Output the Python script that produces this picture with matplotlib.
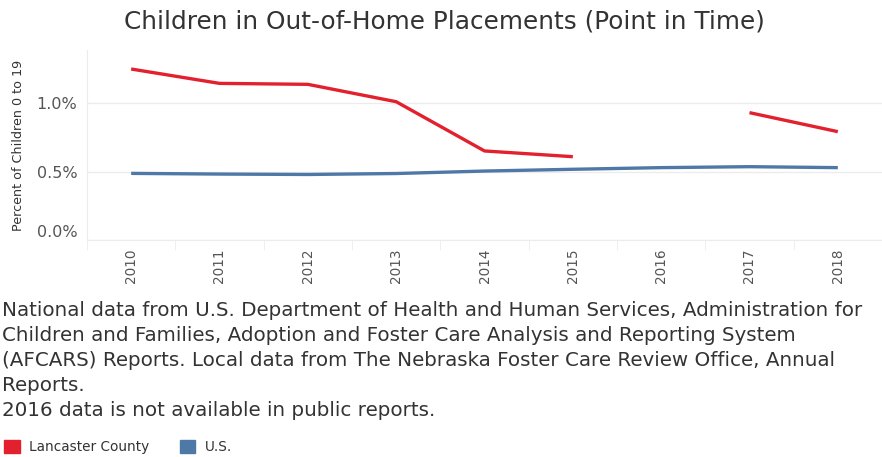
import matplotlib.pyplot as plt
import numpy as np
from matplotlib.patches import Patch
from matplotlib.ticker import FuncFormatter

# data (percent of children 0 to 19)
years = [2010, 2011, 2012, 2013, 2014, 2015, 2016, 2017, 2018]
lancaster = [1.25, 1.145, 1.138, 1.011, 0.651, 0.609, np.nan, 0.931, 0.792]
us = [0.487, 0.482, 0.479, 0.486, 0.504, 0.517, 0.529, 0.536, 0.529]
y_ticks = [0.0, 0.5, 1.0]

notes = ['National data from U.S. Department of Health and Human Services, Administration for',
         'Children and Families, Adoption and Foster Care Analysis and Reporting System',
         '(AFCARS) Reports. Local data from The Nebraska Foster Care Review Office, Annual',
         'Reports.',
         '2016 data is not available in public reports.']

c_red = '#e3202e'
c_blue = '#4e79a7'
c_text = '#333333'
c_grid = '#ececec'

W, H = 882, 457
fig = plt.figure(figsize=(W / 100, H / 100), dpi=100)
ax = fig.add_axes([87 / W, 1 - 240 / H, 1 - 87 / W, 190 / H])

ax.plot(years, lancaster, color=c_red, lw=2.4, solid_capstyle='butt')
ax.plot(years, us, color=c_blue, lw=2.4, solid_capstyle='butt')

ax.set_xlim(2009.52, 2018.39)
ax.set_ylim(0, 1.389)

ax.set_yticks(y_ticks)
ax.yaxis.set_major_formatter(FuncFormatter(lambda v, p: '{:.1f}%'.format(v)))
ax.tick_params(axis='y', length=0, pad=7, labelsize=11.5, labelcolor='#555555')
for lbl in ax.get_yticklabels():
    if lbl.get_text() == '0.0%':
        lbl.set_verticalalignment('bottom')
ax.grid(axis='y', color=c_grid, lw=1)

ax.set_xticks(years)
ax.set_xticklabels([str(y) for y in years], rotation=90, fontsize=9.8,
                   color='#555555')
ax.tick_params(axis='x', length=0, pad=6)
ax.set_xticks(np.arange(2009.5, 2018.6, 1), minor=True)
ax.tick_params(axis='x', which='minor', length=7, color=c_grid)

for s in ['top', 'right']:
    ax.spines[s].set_visible(False)
for s in ['left', 'bottom']:
    ax.spines[s].set_color(c_grid)

ax.set_ylabel('Percent of Children 0 to 19', fontsize=9.2, color=c_text)
ax.yaxis.set_label_coords(-0.078, 0.5)

fig.text(444 / W, 1 - 21 / H, 'Children in Out-of-Home Placements (Point in Time)',
         ha='center', va='center', fontsize=17.8, color=c_text)

for i, s_line in enumerate(notes):
    fig.text(2 / W, 1 - (316 + i * 25) / H, s_line, ha='left', va='baseline',
             fontsize=14.35, color=c_text)

handles = [Patch(color=c_red), Patch(color=c_blue)]
fig.legend(handles, ['Lancaster County', 'U.S.'], loc='center left',
           bbox_to_anchor=(-0.009, 1 - 447 / H), ncol=2, frameon=False,
           fontsize=9.8, handlelength=1.15, handleheight=1.15,
           columnspacing=2.2, handletextpad=0.7, labelcolor=c_text)

fig.savefig('out.png', dpi=100, facecolor='white')
